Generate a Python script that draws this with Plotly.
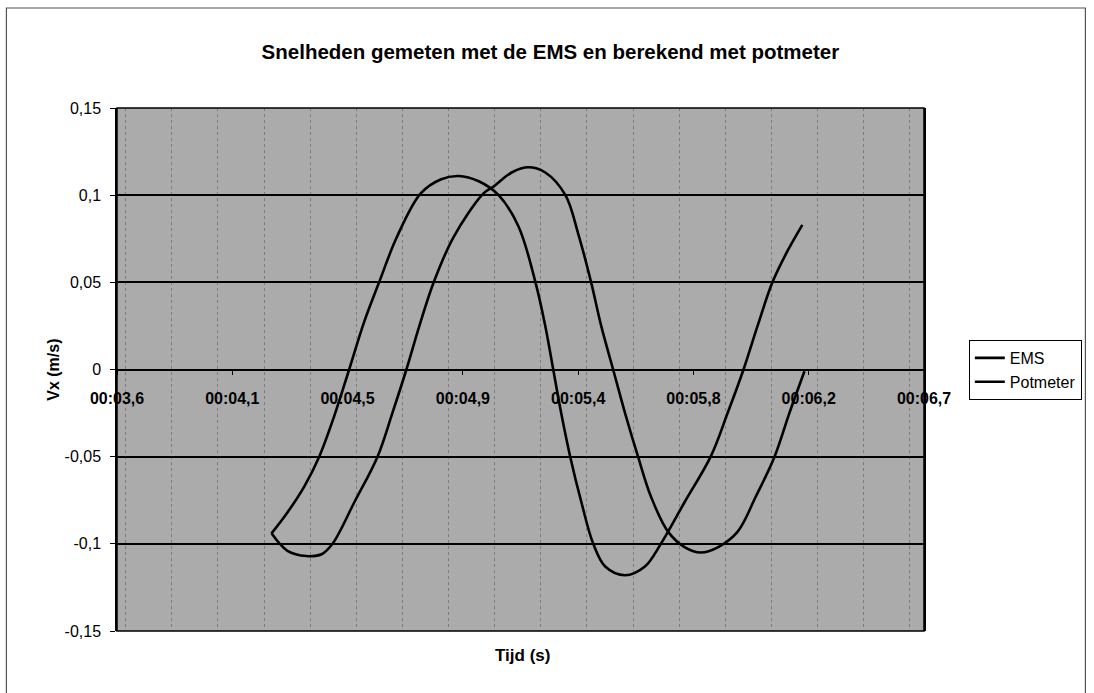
import plotly.graph_objects as go

# Velocity readings (m/s) against time (s)
ems_t = [4.208, 4.268, 4.332, 4.388, 4.444, 4.501, 4.557, 4.614, 4.681, 4.771,
         4.846, 4.914, 4.990, 5.065, 5.140, 5.204, 5.241, 5.271, 5.301, 5.335,
         5.377, 5.422, 5.467, 5.542, 5.617, 5.677, 5.767, 5.865, 5.929, 5.989,
         6.042, 6.098, 6.155, 6.211]
ems_v = [-0.094, -0.082, -0.067, -0.050, -0.027, 0.000, 0.027, 0.050, 0.076, 0.101,
         0.109, 0.111, 0.108, 0.100, 0.082, 0.050, 0.025, 0.000, -0.025, -0.050,
         -0.076, -0.100, -0.113, -0.118, -0.113, -0.100, -0.076, -0.050, -0.025, 0.000,
         0.025, 0.050, 0.068, 0.083]

pot_t = [4.208, 4.268, 4.340, 4.397, 4.438, 4.521, 4.608, 4.664, 4.717, 4.766,
         4.820, 4.895, 5.008, 5.046, 5.114, 5.177, 5.241, 5.317, 5.365, 5.414,
         5.452, 5.497, 5.542, 5.591, 5.640, 5.704, 5.768, 5.828, 5.892, 5.967,
         6.035, 6.106, 6.162, 6.219]
pot_v = [-0.094, -0.104, -0.107, -0.106, -0.100, -0.076, -0.050, -0.025, 0.000, 0.025,
         0.050, 0.076, 0.101, 0.105, 0.113, 0.116, 0.113, 0.100, 0.078, 0.050,
         0.025, 0.000, -0.025, -0.050, -0.073, -0.093, -0.102, -0.105, -0.102, -0.093,
         -0.073, -0.050, -0.025, -0.001]

# Axis ticks
x_tick_vals = [3.625, 4.060, 4.495, 4.930, 5.365, 5.800, 6.235, 6.670]
x_tick_text = ["00:03,6", "00:04,1", "00:04,5", "00:04,9",
               "00:05,4", "00:05,8", "00:06,2", "00:06,7"]
y_tick_vals = [0.15, 0.1, 0.05, 0, -0.05, -0.1, -0.15]
y_tick_text = ["0,15", "0,1", "0,05", "0", "-0,05", "-0,1", "-0,15"]

FONT = "Liberation Sans, Arial, sans-serif"

fig = go.Figure()
fig.add_trace(go.Scatter(x=ems_t, y=ems_v, name="EMS", mode="lines",
                         line=dict(color="black", width=2.6, shape="spline", smoothing=1.0)))
fig.add_trace(go.Scatter(x=pot_t, y=pot_v, name="Potmeter", mode="lines",
                         line=dict(color="black", width=2.6, shape="spline", smoothing=1.0)))

W, H = 1094, 693
L, R, T, B = 117, 927, 108, 631


def px_x(p):
    return (p - L) / (R - L)


def px_y(p):
    return (B - p) / (B - T)


fig.update_layout(
    width=W, height=H,
    margin=dict(l=L, r=W - R, t=T, b=H - B),
    paper_bgcolor="white",
    plot_bgcolor="#ababab",
    font=dict(family=FONT, color="black"),
    title=dict(text="<b>Snelheden gemeten met de EMS en berekend met potmeter</b>",
               x=px_x(552), xref="paper", xanchor="center",
               y=1 - 52 / H, yref="container", yanchor="middle",
               font=dict(size=20.5, family=FONT, color="black")),
    showlegend=True,
    legend=dict(x=px_x(972), y=px_y(340), xanchor="left", yanchor="top",
                bgcolor="white", bordercolor="black", borderwidth=1,
                font=dict(size=16, family=FONT), itemwidth=30,
                tracegroupgap=0),
    xaxis=dict(range=[3.625, 6.67], anchor="free", position=0.5,
               tickvals=x_tick_vals, ticktext=x_tick_text,
               tickfont=dict(size=16, family=FONT, weight="bold"),
               ticks="outside", ticklen=5, tickcolor="black",
               ticklabelstandoff=10,
               showline=True, linecolor="black", linewidth=1.5,
               showgrid=False, zeroline=False,
               minor=dict(tick0=3.832, dtick=0.174, showgrid=True,
                          gridcolor="#7c7c7c", griddash="dot", gridwidth=1)),
    yaxis=dict(range=[-0.15, 0.15], domain=[0, 1],
               tickvals=y_tick_vals, ticktext=y_tick_text,
               tickfont=dict(size=16, family=FONT),
               ticks="outside", ticklen=5, tickcolor="black",
               ticklabelstandoff=6,
               showline=True, linecolor="black", linewidth=1.5, mirror=True,
               showgrid=True, gridcolor="black", gridwidth=1.5,
               zeroline=True, zerolinecolor="black", zerolinewidth=1.5),
)

# Plot-area frame and outer chart frame
fig.add_shape(type="rect", xref="paper", yref="paper", x0=0, x1=1, y0=0, y1=1,
              line=dict(color="black", width=1.5), layer="above")
fig.add_shape(type="rect", xref="paper", yref="paper",
              x0=px_x(6), x1=px_x(1089), y0=px_y(702), y1=px_y(8),
              line=dict(color="#555555", width=1.2))

# Axis titles
fig.add_annotation(text="<b>Tijd (s)</b>", xref="paper", yref="paper",
                   x=px_x(524), y=px_y(667), showarrow=False,
                   font=dict(size=17, family=FONT, color="black"))
fig.add_annotation(text="<b>Vx (m/s)</b>", xref="paper", yref="paper",
                   x=px_x(42), y=px_y(370), showarrow=False, textangle=-90,
                   font=dict(size=16, family=FONT, color="black"))

fig.write_html("out.html")
